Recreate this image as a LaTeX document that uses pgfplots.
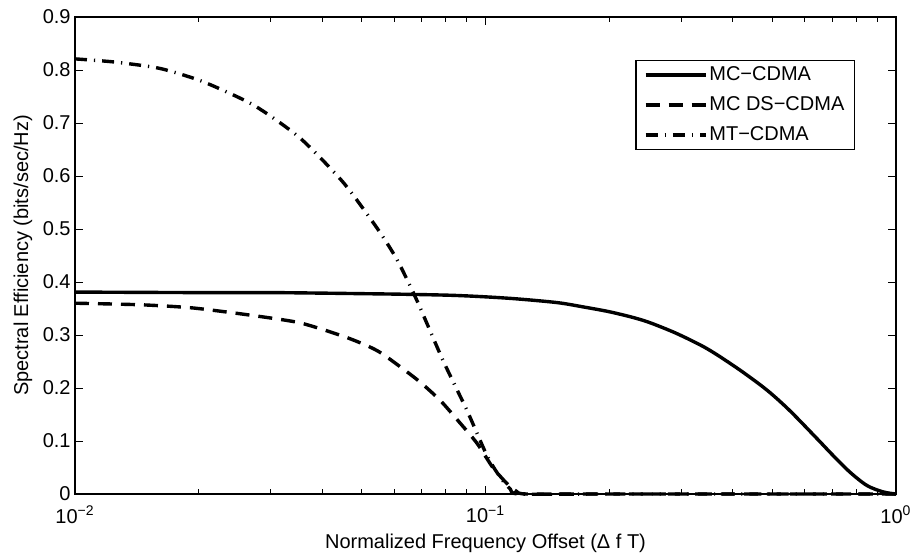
\documentclass[border=0pt]{standalone}
\usepackage{fontspec}
\setmainfont{Liberation Sans}
\usepackage{pgfplots}
\pgfplotsset{compat=1.18}

% Spectral efficiency versus normalized frequency offset
\pgfplotstableread{
x       y
0.01    0.381
0.02    0.380
0.03    0.380
0.04    0.379
0.05    0.378
0.062   0.377
0.082   0.375
0.10    0.372
0.12    0.368
0.15    0.361
0.173   0.353
0.20    0.344
0.229   0.333
0.252   0.323
0.29    0.304
0.334   0.281
0.366   0.263
0.42    0.232
0.485   0.196
0.55    0.158
0.643   0.104
0.70    0.074
0.773   0.041
0.85    0.016
0.93    0.004
1.0     0.0
}\mccdma

\pgfplotstableread{
x       y
0.01    0.360
0.0145  0.357
0.0194  0.351
0.027   0.337
0.0353  0.323
0.0449  0.298
0.0514  0.280
0.0562  0.264
0.0681  0.216
0.0775  0.177
0.0867  0.134
0.0953  0.096
0.1042  0.050
0.1127  0.020
0.1190  0.005
0.126   0.0
0.2     0.0
1.0     0.0
}\mcdscdma

\pgfplotstableread{
x       y
0.01    0.821
0.0125  0.815
0.0161  0.803
0.0205  0.778
0.0272  0.734
0.0353  0.672
0.0449  0.589
0.0544  0.502
0.0609  0.442
0.068   0.366
0.0787  0.253
0.0901  0.158
0.1009  0.072
0.1085  0.032
0.1150  0.009
0.1210  0.0
0.2     0.0
1.0     0.0
}\mtcdma

\begin{document}
\begin{tikzpicture}
\begin{axis}[
  scale only axis,
  width=410.5pt, height=238.5pt,
  xmode=log,
  xmin=0.01, xmax=1,
  ymin=0, ymax=0.9,
  clip=false,
  xtick={0.01,0.1,1},
  xticklabels={10\textsuperscript{−2},10\textsuperscript{−1},10\textsuperscript{0}},
  ytick={0,0.1,0.2,0.3,0.4,0.5,0.6,0.7,0.8,0.9},
  yticklabels={0,0.1,0.2,0.3,0.4,0.5,0.6,0.7,0.8,0.9},
  tick align=inside,
  major tick length=4pt,
  minor tick length=2.5pt,
  every tick/.style={black, line width=0.5pt},
  axis line style={line width=0.7pt},
  xticklabel style={anchor=center, yshift=-10.3pt},
  yticklabel style={inner xsep=0pt, xshift=-2pt},
  xlabel={Normalized Frequency Offset (Δ f T)},
  ylabel={Spectral Efficiency (bits/sec/Hz)},
  every axis x label/.style={at={([yshift=-24.5pt]axis description cs:0.5,0)}, anchor=center},
  every axis y label/.style={at={([xshift=-26pt]axis description cs:0,0.5)}, rotate=90, anchor=center},
  legend cell align=left,
  legend image code/.code={\draw[#1] (2pt,0pt) -- (32pt,0pt);},
  legend style={
    at={(1,1)}, anchor=north east, xshift=-20.5pt, yshift=-21.5pt,
    draw=black, line width=0.6pt,
    inner xsep=4pt, inner ysep=1.5pt,
    row sep=3.5pt,
    nodes={inner sep=1pt, text height=7.5pt, text depth=2pt},
  },
]
\addplot[black, line width=1.7pt, smooth, tension=0.5] table[x=x, y=y] {\mccdma};
\addlegendentry{MC−CDMA}
\addplot[black, line width=1.7pt, smooth, tension=0.4, dash pattern=on 7pt off 4.5pt] table[x=x, y=y] {\mcdscdma};
\addlegendentry{MC DS−CDMA}
\addplot[black, line width=1.7pt, smooth, tension=0.4, dash pattern=on 6pt off 3.5pt on 0.6pt off 3.5pt] table[x=x, y=y] {\mtcdma};
\addlegendentry{MT−CDMA}
\end{axis}
\pgfresetboundingbox
\path ([shift={(-37.5pt,-32pt)}]current axis.south west) rectangle ([shift={(9.5pt,8.5pt)}]current axis.north east);
\end{tikzpicture}
\end{document}
